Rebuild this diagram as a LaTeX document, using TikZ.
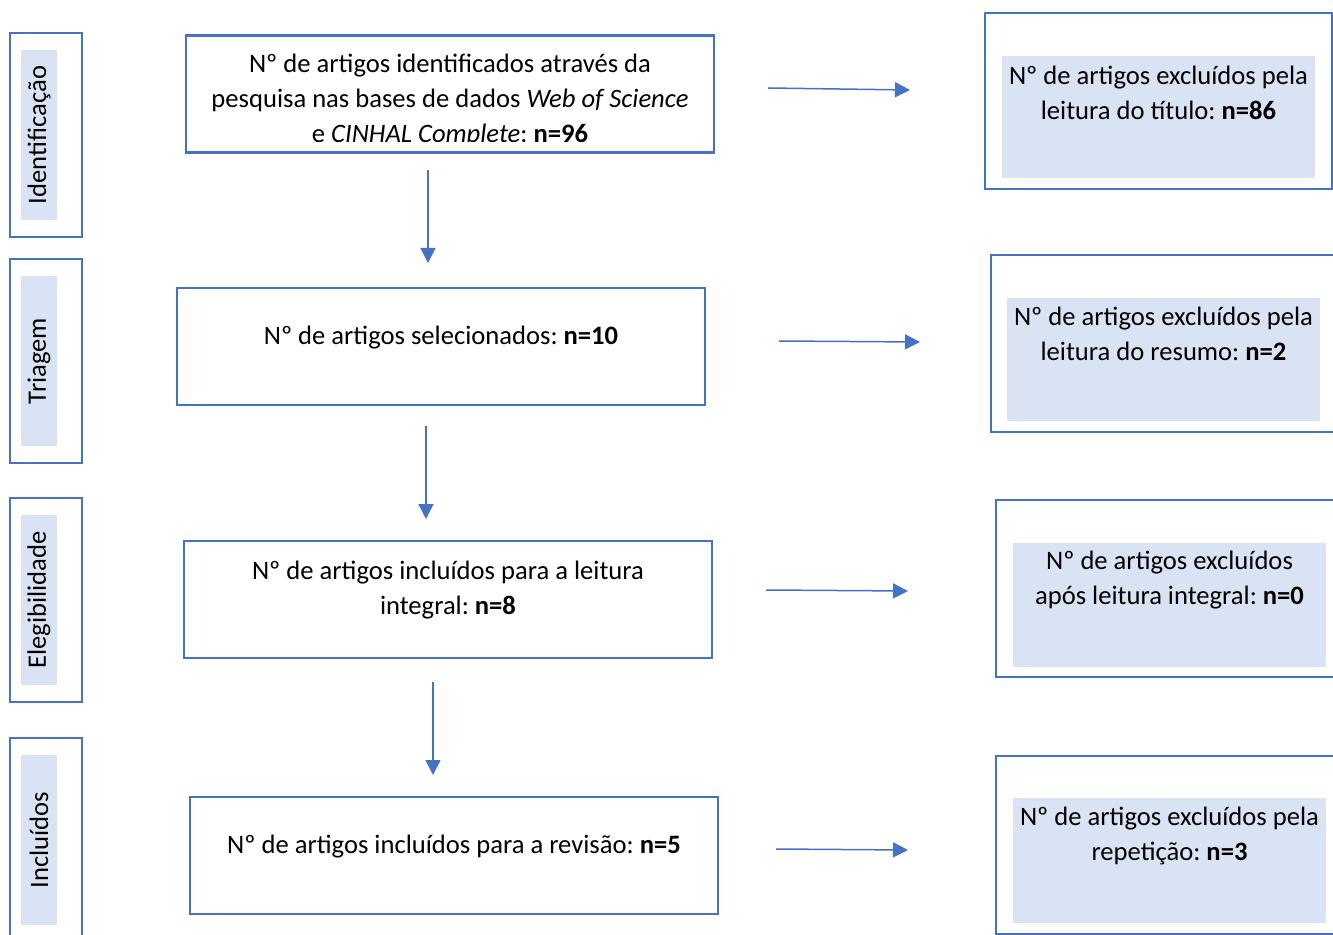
\documentclass[tikz,border=0pt]{standalone}
\usepackage{fontspec}
\setmainfont{Carlito}
\frenchspacing
\usetikzlibrary{arrows.meta}

\definecolor{boxblue}{HTML}{4472C4}
\definecolor{fillblue}{HTML}{DAE3F3}

\begin{document}
\begin{tikzpicture}[x=0.5pt, y=-0.5pt, >={Triangle[width=7.5pt, length=7.5pt]},
		every node/.style={font=\fontsize{13.3}{17.5}\selectfont, align=center, inner sep=0pt},
		etapa/.style={draw=boxblue, line width=1.25pt, minimum width=36pt, minimum height=102pt},
		rotulo/.style={fill=fillblue, rotate=90, minimum width=85pt, minimum height=18pt},
		caixa/.style={draw=boxblue, line width=1.25pt, minimum width=264pt, minimum height=58.5pt},
		excl/.style={draw=boxblue, line width=1.25pt, minimum height=88.5pt},
		seta/.style={->, draw=boxblue, line width=0.75pt}]
		\useasboundingbox (0,0) rectangle (1333,935);
		
		% fases
		\node[etapa] (e1) at (46,135) {};
		\node[etapa] (e2) at (46,361) {};
		\node[etapa] (e3) at (46,600) {};
		\node[etapa] (e4) at (46,840) {};
		\node[rotulo] (f1) at (39,135) {Identificação};
		\node[rotulo] (f2) at (39,361) {Triagem};
		\node[rotulo] (f3) at (39,600) {Elegibilidade};
		\node[rotulo] (f4) at (39,840) {Incluídos};
		
		% caixas centrais
		\node[caixa] (ident) at (450,94) {};
		\node[caixa] (selec) at (441,346.5) {};
		\node[caixa] (eleg) at (448,599.5) {};
		\node[caixa] (incl) at (454,855.5) {};
		\begin{scope}
			\clip (188,37) rectangle (712,142);
			\node (t1) at (450,100) {Nº de artigos identificados através da\\
				pesquisa nas bases de dados \textit{Web of Science}\\
				e \textit{CINHAL Complete}: \textbf{n=96}};
		\end{scope}
		\node (t2) at (441,338) {Nº de artigos selecionados: \textbf{n=10}};
		\node (t3) at (448,590.5) {Nº de artigos incluídos para a leitura\\ integral: \textbf{n=8}};
		\node (t4) at (454,847) {Nº de artigos incluídos para a revisão: \textbf{n=5}};
		
		% caixas de exclusão
		\node[excl, minimum width=173.5pt, minimum height=88pt] (x1) at (1158.5,101) {};
		\node[excl, minimum width=174.5pt] (x2) at (1165.5,343.5) {};
		\node[excl, minimum width=174.5pt] (x3) at (1170.5,588.5) {};
		\node[excl, minimum width=174.5pt, minimum height=89pt] (x4) at (1170.5,845) {};
		\fill[fillblue] (1002,56) rectangle (1315,178);
		\fill[fillblue] (1007,298) rectangle (1320,421);
		\fill[fillblue] (1013,543) rectangle (1326,667);
		\fill[fillblue] (1013,798) rectangle (1326,923);
		\node (u1) at (1158.5,92.5) {Nº de artigos excluídos pela\\ leitura do título: \textbf{n=86}};
		\node (u2) at (1163.5,334) {Nº de artigos excluídos pela\\ leitura do resumo: \textbf{n=2}};
		\node (u3) at (1169.5,580) {Nº de artigos excluídos\\ após leitura integral: \textbf{n=0}};
		\node (u4) at (1169.5,836) {Nº de artigos excluídos pela\\ repetição: \textbf{n=3}};
		
		% setas
		\coordinate (v1a) at (428,170); \coordinate (v1b) at (428,263);
		\coordinate (v2a) at (426,426); \coordinate (v2b) at (426,519);
		\coordinate (v3a) at (433,682); \coordinate (v3b) at (433,775);
		\coordinate (h1a) at (768,88);  \coordinate (h1b) at (910,90);
		\coordinate (h2a) at (779,341); \coordinate (h2b) at (920,342);
		\coordinate (h3a) at (766,590); \coordinate (h3b) at (908,591);
		\coordinate (h4a) at (776,849); \coordinate (h4b) at (908,850);
		\foreach \a/\b in {v1a/v1b, v2a/v2b, v3a/v3b, h1a/h1b, h2a/h2b, h3a/h3b, h4a/h4b}
			\draw[seta] (\a) -- (\b);
	\end{tikzpicture}
\end{document}
